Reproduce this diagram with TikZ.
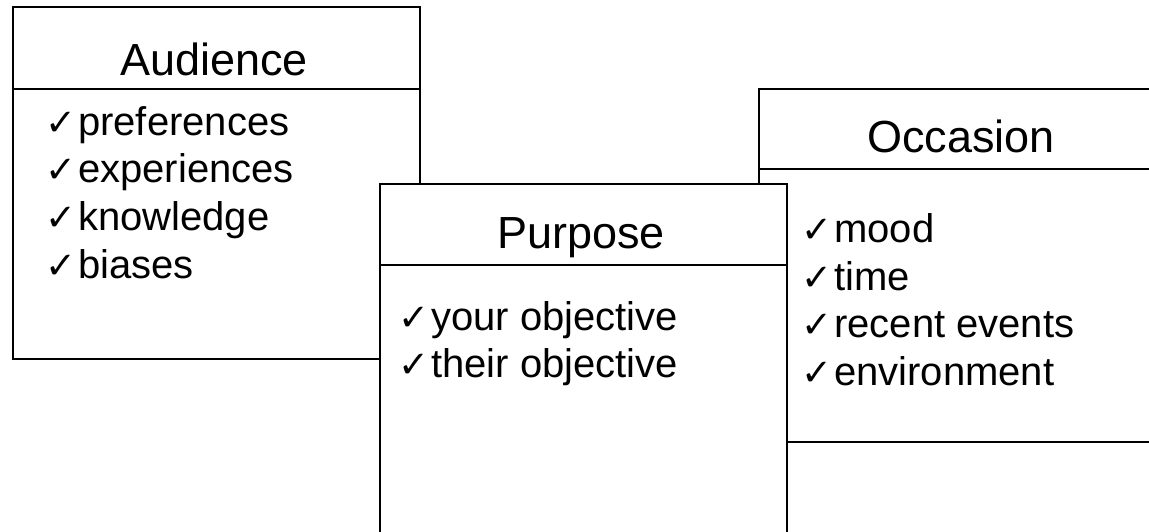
\documentclass[tikz,border=0pt]{standalone}
\usepackage{fontspec}
\setmainfont{Liberation Sans}
\newfontfamily\dejavu{DejaVu Sans}
\newcommand\chk{\makebox[31pt][l]{\hspace{-2pt}\dejavu\fontsize{37}{37}\selectfont ✓}}
\begin{document}
\begin{tikzpicture}[x=1pt,y=-1pt,
  boxline/.style={draw=black,line width=1.8pt,fill=white},
  hdr/.style={anchor=base,inner sep=0pt,font=\fontsize{45}{50}\selectfont},
  item/.style={anchor=base west,inner sep=0pt,font=\fontsize{40}{46}\selectfont}]
\useasboundingbox (0,0) rectangle (1149,531);
\fill[white] (0,0) rectangle (1149,531);
\begin{scope}
\clip (0,0) rectangle (1149,531);
% Audience
\filldraw[boxline] (13,7) rectangle (420,359);
\draw[line width=1.8pt] (13,89) -- (420,89);
\node[hdr] (audh) at (214,75) {Audience};
\node[item] (a1) at (47,135) {\chk preferences};
\node[item] (a2) at (47,182) {\chk experiences};
\node[item] (a3) at (47,230) {\chk knowledge};
\node[item] (a4) at (47,278) {\chk biases};
% Occasion
\filldraw[boxline] (759,89) rectangle (1165,442);
\draw[line width=1.8pt] (759,169) -- (1165,169);
\node[hdr] (occh) at (961,152) {Occasion};
\node[item] (o1) at (803,242) {\chk mood};
\node[item] (o2) at (803,290) {\chk time};
\node[item] (o3) at (803,337) {\chk recent events};
\node[item] (o4) at (803,385) {\chk environment};
% Purpose
\filldraw[boxline] (380,184) rectangle (787,560);
\draw[line width=1.8pt] (380,265) -- (787,265);
\node[hdr] (purh) at (581,248) {Purpose};
\node[item] (p1) at (400,330) {\chk your objective};
\node[item] (p2) at (400,377) {\chk their objective};
\end{scope}
\end{tikzpicture}
\end{document}
